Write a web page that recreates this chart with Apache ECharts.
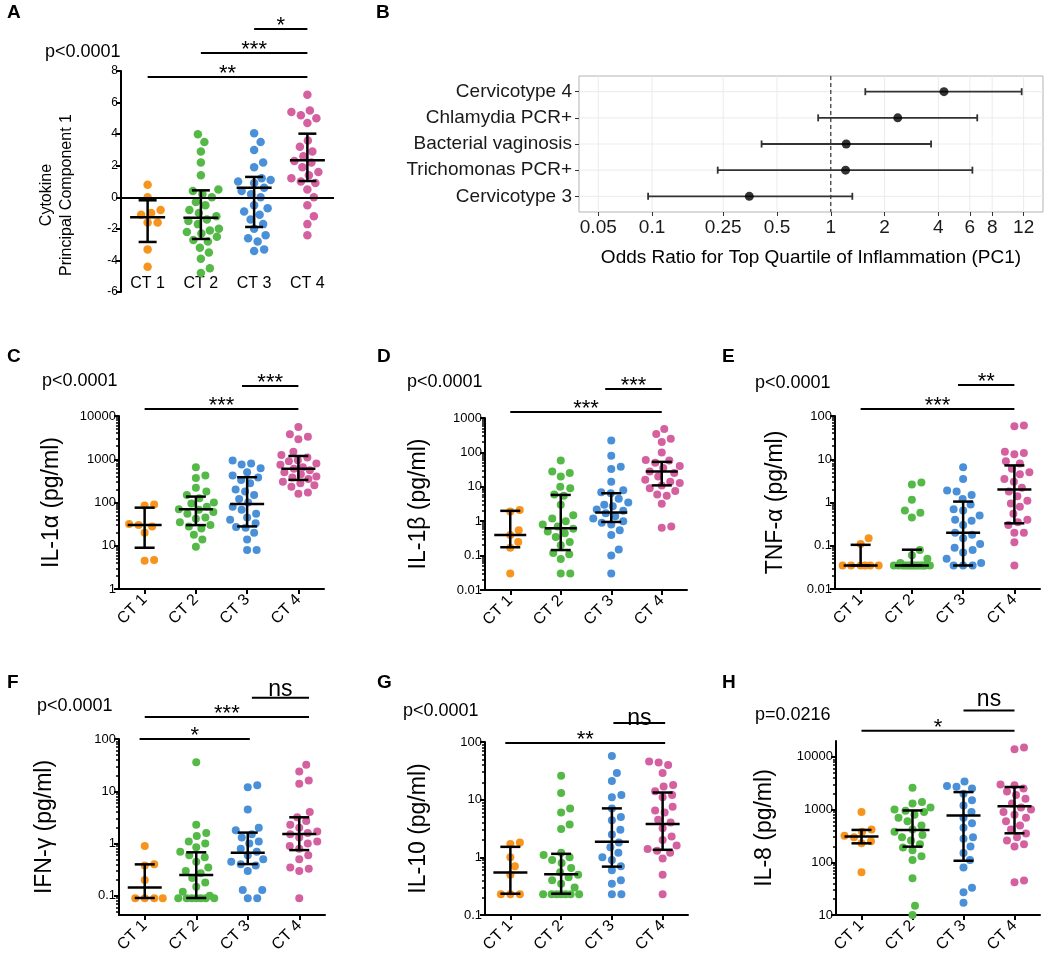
<!DOCTYPE html>
<html>
<head>
<meta charset="utf-8">
<script src="https://cdn.jsdelivr.net/npm/echarts@6.0.0/dist/echarts.min.js"></script>
<style>
html,body{margin:0;padding:0;background:#fff;}
#chart{width:1050px;height:963px;}
</style>
</head>
<body>
<div id="chart"></div>
<script>
// ================= DATA =================
const groups = ['CT 1', 'CT 2', 'CT 3', 'CT 4'];
const groupColors = ['#f7941d', '#55b947', '#4a90d9', '#d4609f'];

// A: Cytokine principal component 1
const pc1Ticks = [-6, -4, -2, 0, 2, 4, 6, 8];
const pc1Values = [
  [0.8, 0.0, -0.8, -1.0, -1.1, -1.6, -1.6, -3.3, -4.4],
  [4.0, 3.5, 2.9, 2.2, 1.4, 0.5, 0.4, 0.2, 0.0, -0.3, -0.5, -0.8, -1.0, -1.2, -1.4, -1.5, -1.7, -2.0, -2.1, -2.2, -2.3, -2.5, -2.7, -2.8, -3.2, -3.5, -3.9, -4.5, -4.8],
  [4.05, 3.5, 3.0, 2.2, 1.9, 1.2, 1.1, 1.0, 0.9, 0.6, 0.4, 0.2, 0.0, -0.5, -0.7, -0.9, -1.1, -1.4, -1.7, -2.0, -2.4, -2.6, -2.8, -3.3, -3.4],
  [6.5, 5.5, 5.4, 5.2, 5.0, 4.7, 3.6, 3.2, 2.9, 2.6, 2.3, 2.2, 1.9, 1.6, 1.4, 1.2, 1.0, 0.9, 0.5, 0.0, -0.5, -1.2, -1.7, -2.4]
];
const pc1Summary = [[-1.27, -2.83, -0.19], [-1.29, -2.64, 0.44], [0.61, -1.88, 1.29], [2.34, 1.03, 4.03]]; // median, q1, q3
const pc1Sig = [[0, 3, 7.62, '**'], [1, 3, 9.14, '***'], [2, 3, 10.66, '*']];

// B: odds ratios
const orCategories = ['Cervicotype 4', 'Chlamydia PCR+', 'Bacterial vaginosis', 'Trichomonas PCR+', 'Cervicotype 3'];
const orEstimate = [4.3, 2.37, 1.22, 1.21, 0.35];
const orLower = [1.56, 0.85, 0.41, 0.233, 0.095];
const orUpper = [11.7, 6.6, 3.64, 6.2, 1.32];
const orTicks = [0.05, 0.1, 0.25, 0.5, 1, 2, 4, 6, 8, 12];

// C: IL-1a
const il1aTicks = [1, 10, 100, 1000, 10000];
const il1aValues = [
  [90, 85, 32, 30, 28, 20, 4.7, 4.5],
  [650, 420, 370, 220, 180, 150, 125, 100, 95, 80, 70, 68, 60, 55, 45, 42, 35, 30, 28, 25, 18, 14, 9.5],
  [930, 800, 760, 620, 500, 420, 380, 330, 280, 200, 180, 150, 120, 100, 80, 68, 55, 45, 40, 33, 27, 26, 20, 14, 8, 8],
  [5600, 3800, 3300, 2900, 1500, 1250, 1100, 950, 900, 800, 750, 650, 600, 560, 500, 450, 400, 380, 350, 300, 280, 250, 230, 170, 160]
];
const il1aSummary = [[30, 9, 76], [70, 30, 137], [92, 28, 384], [605, 333, 1190]];
const il1aSig = [[0, 3, 14500, '***'], [1.9, 3, 49400, '***']];

// D: IL-1b
const il1bTicks = [0.01, 0.1, 1, 10, 100, 1000];
const il1bValues = [
  [2.1, 1.9, 0.55, 0.4, 0.25, 0.17, 0.03],
  [58, 28, 25, 20, 10, 9, 6, 5.5, 3, 1.5, 1.2, 1.0, 0.8, 0.7, 0.6, 0.5, 0.45, 0.35, 0.25, 0.2, 0.12, 0.11, 0.08, 0.03, 0.03],
  [220, 80, 38, 33, 14, 8, 7, 6.5, 4.5, 3.5, 3, 2.7, 2.2, 2, 1.7, 1.4, 1.2, 1.0, 0.9, 0.8, 0.55, 0.4, 0.15, 0.1, 0.03],
  [480, 340, 250, 200, 100, 60, 58, 50, 40, 35, 28, 25, 20, 16, 14, 13, 11, 9, 7.5, 6, 5.5, 3.2, 0.7, 0.65]
];
const il1bSummary = [[0.4, 0.175, 2.0], [0.62, 0.145, 5.8], [1.8, 0.95, 6.5], [28, 11, 53]];
const il1bSig = [[0, 3, 1490, '***'], [1.88, 3, 6970, '***']];

// E: TNF-a
const tnfaTicks = [0.01, 0.1, 1, 10, 100];
const tnfaValues = [
  [0.15, 0.11, 0.035, 0.035, 0.035, 0.035, 0.035, 0.035],
  [2.9, 2.6, 1.15, 0.65, 0.58, 0.45, 0.08, 0.06, 0.05, 0.04, 0.035, 0.035, 0.035, 0.035, 0.035, 0.035, 0.035, 0.035, 0.035, 0.035, 0.035, 0.035, 0.035, 0.035],
  [6.5, 3.5, 1.9, 1.8, 1.5, 1.2, 0.9, 0.7, 0.65, 0.5, 0.4, 0.38, 0.3, 0.2, 0.18, 0.15, 0.11, 0.09, 0.08, 0.07, 0.05, 0.04, 0.035, 0.035, 0.035],
  [60, 58, 15, 14, 13, 9, 8, 6, 5, 4.5, 3.5, 3, 2.2, 1.8, 1.4, 1.1, 0.95, 0.8, 0.55, 0.4, 0.35, 0.3, 0.2, 0.2, 0.12, 0.035]
];
const tnfaSummary = [[0.035, 0.035, 0.105], [0.035, 0.035, 0.081], [0.2, 0.035, 1.05], [2.0, 0.33, 7.2]];
const tnfaSig = [[0, 3, 145, '***'], [1.9, 3, 521, '**']];

// F: IFN-g
const ifngTicks = [0.1, 1, 10, 100];
const ifngValues = [
  [0.9, 0.4, 0.38, 0.2, 0.09, 0.09, 0.09, 0.09],
  [36, 2.3, 1.6, 1.4, 1.1, 1.0, 0.85, 0.7, 0.6, 0.55, 0.45, 0.35, 0.3, 0.27, 0.22, 0.18, 0.15, 0.12, 0.1, 0.09, 0.09, 0.09, 0.09, 0.09, 0.09, 0.09],
  [13, 12, 4.5, 2.0, 1.8, 1.5, 1.3, 1.1, 1.0, 0.8, 0.7, 0.6, 0.5, 0.45, 0.4, 0.38, 0.3, 0.13, 0.13, 0.09, 0.09],
  [32, 24, 16, 14, 4, 3.2, 2.7, 2.3, 2.0, 1.7, 1.6, 1.5, 1.3, 1.1, 1.0, 0.9, 0.8, 0.6, 0.5, 0.35, 0.33, 0.3, 0.09]
];
const ifngSummary = [[0.144, 0.091, 0.4], [0.25, 0.091, 0.68], [0.67, 0.405, 1.62], [1.52, 0.75, 3.18]];
const ifngSig = [[-0.1, 2.04, 100, '*'], [0, 3.19, 264, '***'], [2.08, 3.19, 612, 'ns']];

// G: IL-10
const il10Ticks = [0.1, 1, 10, 100];
const il10Values = [
  [1.8, 1.7, 1.0, 0.7, 0.5, 0.23, 0.23, 0.23],
  [26, 13, 7, 6, 3.7, 3.1, 1.2, 1.1, 1.0, 0.9, 0.8, 0.65, 0.55, 0.5, 0.45, 0.4, 0.35, 0.3, 0.23, 0.23, 0.23, 0.23, 0.23, 0.23, 0.23],
  [57, 29, 21, 12, 11, 7, 5, 4.4, 3, 2.5, 1.8, 1.5, 1.2, 1.0, 0.9, 0.7, 0.6, 0.4, 0.35, 0.23, 0.23],
  [46, 44, 40, 29, 18, 17, 14, 12, 11, 7.5, 6.5, 6, 4.5, 4, 3.2, 2.3, 2.0, 1.6, 1.4, 1.3, 1.2, 0.95, 0.5, 0.23]
];
const il10Summary = [[0.546, 0.234, 1.52], [0.51, 0.234, 1.15], [1.87, 0.69, 7.06], [3.79, 1.35, 13.3]];
const il10Sig = [[-0.1, 3.05, 96, '**'], [2.03, 3.05, 213, 'ns']];

// H: IL-8
const il8Ticks = [10, 100, 1000, 10000];
const il8Values = [
  [900, 420, 380, 320, 300, 250, 230, 65],
  [2600, 1400, 1300, 1100, 1000, 950, 900, 800, 700, 600, 500, 420, 380, 330, 300, 260, 220, 190, 170, 130, 110, 50, 15, 10],
  [3400, 2800, 2700, 2500, 2000, 1500, 1200, 900, 700, 550, 450, 300, 280, 200, 150, 110, 80, 33, 27, 17],
  [15000, 14000, 3000, 2900, 2500, 2200, 1900, 1600, 1300, 1100, 1000, 900, 800, 700, 600, 500, 420, 350, 300, 260, 220, 200, 45, 42]
];
const il8Summary = [[307, 229, 411], [411, 198, 962], [771, 107, 2148], [1162, 355, 2680]];
const il8Sig = [[0, 3, 31400, '*'], [2, 3, 75900, 'ns']];

// ================= LAYOUT / STYLE =================
const FONT = '"Liberation Sans", Arial, Helvetica, sans-serif';

const panels = [
  {values: pc1Values, summary: pc1Summary, sig: pc1Sig, ticks: pc1Ticks, log: false, min: -6, max: 8,
   grid: {left: 121, top: 71, width: 213, height: 221}, dot: 8.5, gap: 10, medHalf: 17.5, capHalf: 9, rotate: 0, tickFont: 12, nsDy: -9},
  {values: il1aValues, summary: il1aSummary, sig: il1aSig, ticks: il1aTicks, log: true, min: 1, max: 10000,
   grid: {left: 119, top: 416, width: 205, height: 173}, dot: 8, gap: 9.5, medHalf: 17, capHalf: 10, rotate: 45, name: 'IL-1α (pg/ml)', nameGap: 56, nsDy: -9},
  {values: il1bValues, summary: il1bSummary, sig: il1bSig, ticks: il1bTicks, log: true, min: 0.01, max: 1000,
   grid: {left: 485, top: 418, width: 202, height: 172}, dot: 8, gap: 9.5, medHalf: 16, capHalf: 10, rotate: 45, name: 'IL-1β (pg/ml)', nameGap: 55, nsDy: -9},
  {values: tnfaValues, summary: tnfaSummary, sig: tnfaSig, ticks: tnfaTicks, log: true, min: 0.01, max: 100,
   grid: {left: 835, top: 416, width: 205, height: 173}, dot: 8, gap: 9.5, medHalf: 17, capHalf: 10, rotate: 45, name: 'TNF-α (pg/ml)', nameGap: 48, nsDy: -9},
  {values: ifngValues, summary: ifngSummary, sig: ifngSig, ticks: ifngTicks, log: true, min: 0.043, max: 100,
   grid: {left: 119, top: 739, width: 206, height: 176}, dot: 8, gap: 9.5, medHalf: 17, capHalf: 10, rotate: 45, name: 'IFN-γ (pg/ml)', nameGap: 63, nsDy: -8},
  {values: il10Values, summary: il10Summary, sig: il10Sig, ticks: il10Ticks, log: true, min: 0.1, max: 100,
   grid: {left: 485, top: 742, width: 203, height: 173}, dot: 8, gap: 9.5, medHalf: 17, capHalf: 10, rotate: 45, name: 'IL-10 (pg/ml)', nameGap: 55, nsDy: -4},
  {values: il8Values, summary: il8Summary, sig: il8Sig, ticks: il8Ticks, log: true, min: 10, max: 20000,
   grid: {left: 836, top: 741, width: 204, height: 174}, dot: 8, gap: 9.5, medHalf: 17, capHalf: 10, rotate: 45, name: 'IL-8 (pg/ml)', nameGap: 60, nsDy: -11}
];

const texts = [
  {t: 'A', x: 7, y: 13, bold: true}, {t: 'B', x: 376, y: 13, bold: true},
  {t: 'C', x: 7, y: 357, bold: true}, {t: 'D', x: 377, y: 357, bold: true}, {t: 'E', x: 722, y: 357, bold: true},
  {t: 'F', x: 7, y: 683, bold: true}, {t: 'G', x: 377, y: 683, bold: true}, {t: 'H', x: 722, y: 683, bold: true},
  {t: 'p<0.0001', x: 45, y: 52}, {t: 'p<0.0001', x: 42, y: 381}, {t: 'p<0.0001', x: 407, y: 382},
  {t: 'p<0.0001', x: 755, y: 383}, {t: 'p<0.0001', x: 37, y: 706}, {t: 'p<0.0001', x: 403, y: 711},
  {t: 'p=0.0216', x: 755, y: 715}
];

// ================= HELPERS =================
function swarmOffsets(ys, d, maxHalf) {
  const order = ys.map((y, i) => i).sort((a, b) => ys[a] - ys[b]);
  const placed = [];
  const off = new Array(ys.length).fill(0);
  const cands = [0];
  for (let s = 0.5; s <= maxHalf; s += 0.5) cands.push(s, -s);
  for (const i of order) {
    const y = ys[i];
    let chosen = null, bestScore = -1, bestX = 0;
    for (const x of cands) {
      let minD = Infinity;
      for (const p of placed) {
        const dy = p.y - y;
        if (Math.abs(dy) >= d) continue;
        const dist = Math.hypot(p.x - x, dy);
        if (dist < minD) minD = dist;
      }
      if (minD >= d) { chosen = x; break; }
      if (minD > bestScore) { bestScore = minD; bestX = x; }
    }
    if (chosen === null) chosen = bestX;
    off[i] = chosen;
    placed.push({x: chosen, y: y});
  }
  return off;
}
function minorExps(lo, hi) {
  const out = [];
  for (let k = Math.floor(lo); k <= Math.ceil(hi); k++) {
    for (let m = 2; m <= 9; m++) {
      const e = k + Math.log10(m);
      if (e > lo + 1e-9 && e < hi - 1e-9) out.push(e);
    }
  }
  return out;
}
function fmtLog(v) {
  const r = Math.pow(10, v);
  return r >= 1 ? String(Math.round(r)) : String(+r.toPrecision(2));
}

// ================= BUILD =================
const grid = [], xAxis = [], yAxis = [], series = [], graphic = [];

panels.forEach((P) => {
  const gi = grid.length;
  grid.push({left: P.grid.left, top: P.grid.top, width: P.grid.width, height: P.grid.height});
  const tf = P.log ? (v => Math.log10(v)) : (v => v);
  const yMin = tf(P.min), yMax = tf(P.max);
  const isA = !P.log;

  const xi = xAxis.length;
  xAxis.push({
    gridIndex: gi, type: 'value', min: -0.5, max: 3.5,
    axisLine: {show: !isA, onZero: false, lineStyle: {color: '#000', width: 2}},
    axisTick: {show: !isA, customValues: [0, 1, 2, 3], length: 5, lineStyle: {color: '#000', width: 2}},
    axisLabel: {customValues: [0, 1, 2, 3], formatter: v => groups[Math.round(v)], rotate: P.rotate,
      inside: isA, margin: isA ? 0 : 8, fontSize: 16, color: '#000', fontFamily: FONT},
    splitLine: {show: false}
  });
  const yi = yAxis.length;
  yAxis.push({
    gridIndex: gi, type: 'value', min: yMin, max: yMax, position: 'left',
    axisLine: {show: true, onZero: false, lineStyle: {color: '#000', width: 2}},
    axisTick: {show: true, customValues: P.ticks.map(tf), length: 5, lineStyle: {color: '#000', width: 2}},
    axisLabel: {customValues: P.ticks.map(tf), formatter: P.log ? fmtLog : (v => String(v)),
      fontSize: P.tickFont || 13, color: '#000', margin: 3, fontFamily: FONT},
    splitLine: {show: false},
    name: P.name || '', nameLocation: 'middle', nameGap: P.nameGap || 40,
    nameTextStyle: {fontSize: 23, color: '#000', fontFamily: FONT}
  });
  if (P.log) {
    yAxis.push({
      gridIndex: gi, type: 'value', min: yMin, max: yMax, position: 'left',
      axisLine: {show: false, onZero: false},
      axisTick: {show: true, customValues: minorExps(yMin, yMax), length: 3, lineStyle: {color: '#000', width: 1.5}},
      axisLabel: {show: false}, splitLine: {show: false}
    });
  }

  const pxPerUnit = P.grid.height / (yMax - yMin);
  const band = P.grid.width / 4;
  P.values.forEach((vals, g) => {
    const t = vals.map(tf);
    const offs = swarmOffsets(t.map(y => y * pxPerUnit), P.gap, 18);
    series.push({
      type: 'scatter', xAxisIndex: xi, yAxisIndex: yi, silent: true, z: 2,
      symbolSize: P.dot, itemStyle: {color: groupColors[g], opacity: 1},
      data: t.map((y, k) => [g + offs[k] / band, y])
    });
  });

  // median + IQR bars
  const sumSeries = {
    type: 'custom', xAxisIndex: xi, yAxisIndex: yi, silent: true, z: 4,
    data: P.summary.map((s, g) => [g, tf(s[0]), tf(s[1]), tf(s[2])]),
    encode: {x: 0, y: [1, 2, 3]},
    renderItem: (params, api) => {
      const c = api.value(0);
      const pm = api.coord([c, api.value(1)]);
      const pl = api.coord([c, api.value(2)]);
      const ph = api.coord([c, api.value(3)]);
      const st = {stroke: '#000', lineWidth: 2.5, lineCap: 'butt'};
      return {type: 'group', children: [
        {type: 'line', shape: {x1: pl[0], y1: pl[1], x2: ph[0], y2: ph[1]}, style: st},
        {type: 'line', shape: {x1: pl[0] - P.capHalf, y1: pl[1], x2: pl[0] + P.capHalf, y2: pl[1]}, style: st},
        {type: 'line', shape: {x1: ph[0] - P.capHalf, y1: ph[1], x2: ph[0] + P.capHalf, y2: ph[1]}, style: st},
        {type: 'line', shape: {x1: pm[0] - P.medHalf, y1: pm[1], x2: pm[0] + P.medHalf, y2: pm[1]}, style: st}
      ]};
    }
  };
  if (isA) {
    sumSeries.markLine = {silent: true, symbol: 'none', animation: false, label: {show: false},
      lineStyle: {color: '#000', width: 2, type: 'solid'}, data: [{yAxis: 0}]};
  }
  series.push(sumSeries);

  // significance bars
  const sig = P.sig;
  series.push({
    type: 'custom', xAxisIndex: xi, yAxisIndex: yi, silent: true, z: 5, clip: false,
    data: sig.map(s => [s[0], s[1], tf(s[2])]),
    encode: {x: [0, 1], y: 2},
    renderItem: (params, api) => {
      const p1 = api.coord([api.value(0), api.value(2)]);
      const p2 = api.coord([api.value(1), api.value(2)]);
      const lab = sig[params.dataIndex][3];
      const isNs = lab === 'ns';
      return {type: 'group', children: [
        {type: 'line', shape: {x1: p1[0], y1: p1[1], x2: p2[0], y2: p2[1]}, style: {stroke: '#000', lineWidth: 2}},
        {type: 'text', x: (p1[0] + p2[0]) / 2, y: p1[1] + (isNs ? P.nsDy : -3),
         style: {text: lab, fontSize: isNs ? 23 : 22, fontFamily: FONT, fill: '#000', align: 'center', verticalAlign: 'middle'}}
      ]};
    }
  });
});

// ---- Panel B ----
(function () {
  const gi = grid.length;
  grid.push({left: 579, top: 76, width: 464, height: 136, show: true, borderColor: '#b3b3b3', borderWidth: 1, backgroundColor: '#fff'});
  const xi = xAxis.length;
  const tickExp = orTicks.map(t => Math.log10(t));
  const xMin = Math.log10(0.039), xMax = Math.log10(15.4);
  xAxis.push({
    gridIndex: gi, type: 'value', min: xMin, max: xMax,
    axisLine: {show: false, onZero: false},
    axisTick: {show: true, customValues: tickExp, length: 4, lineStyle: {color: '#333', width: 1}},
    axisLabel: {customValues: tickExp, margin: 6, fontSize: 19, color: '#1a1a1a', fontFamily: FONT,
      formatter: v => { let best = orTicks[0]; orTicks.forEach(t => { if (Math.abs(Math.log10(t) - v) < Math.abs(Math.log10(best) - v)) best = t; }); return String(best); }},
    splitLine: {show: false},
    name: 'Odds Ratio for Top Quartile of Inflammation (PC1)', nameLocation: 'middle', nameGap: 36,
    nameTextStyle: {fontSize: 19, color: '#000', fontFamily: FONT}
  });
  const yi = yAxis.length;
  yAxis.push({
    gridIndex: gi, type: 'value', min: 0.4, max: 5.6, inverse: true,
    axisLine: {show: false, onZero: false},
    axisTick: {show: true, customValues: [1, 2, 3, 4, 5], length: 4, lineStyle: {color: '#333', width: 1}},
    axisLabel: {customValues: [1, 2, 3, 4, 5], formatter: v => orCategories[Math.round(v) - 1] || '',
      margin: 7, fontSize: 19, color: '#1a1a1a', fontFamily: FONT},
    splitLine: {show: false}
  });
  // panel grid lines (drawn through the axes' scales)
  const gridLines = tickExp.map(e => [e, 0]).concat([1, 2, 3, 4, 5].map(v => [v, 1]));
  series.push({
    type: 'custom', xAxisIndex: xi, yAxisIndex: yi, silent: true, z: 1,
    data: gridLines, encode: {x: 0},
    renderItem: (params, api) => {
      const v = api.value(0), horiz = api.value(1) === 1;
      const a = horiz ? api.coord([xMin, v]) : api.coord([v, 0.4]);
      const b = horiz ? api.coord([xMax, v]) : api.coord([v, 5.6]);
      return {type: 'line', shape: {x1: a[0], y1: a[1], x2: b[0], y2: b[1]}, style: {stroke: '#ebebeb', lineWidth: 1}};
    }
  });
  // reference line at OR = 1
  series.push({
    type: 'custom', xAxisIndex: xi, yAxisIndex: yi, silent: true, z: 2,
    data: [[0]], encode: {x: 0},
    renderItem: (params, api) => {
      const a = api.coord([api.value(0), 0.4]);
      const b = api.coord([api.value(0), 5.6]);
      return {type: 'line', shape: {x1: a[0], y1: a[1], x2: b[0], y2: b[1]}, style: {stroke: '#333', lineWidth: 1.2, lineDash: [4, 3]}};
    }
  });
  series.push({
    type: 'custom', xAxisIndex: xi, yAxisIndex: yi, silent: true, z: 3,
    data: orCategories.map((c, i) => [Math.log10(orLower[i]), Math.log10(orUpper[i]), i + 1]),
    encode: {x: [0, 1], y: 2},
    renderItem: (params, api) => {
      const a = api.coord([api.value(0), api.value(2)]);
      const b = api.coord([api.value(1), api.value(2)]);
      const st = {stroke: '#333', lineWidth: 1.8};
      return {type: 'group', children: [
        {type: 'line', shape: {x1: a[0], y1: a[1], x2: b[0], y2: b[1]}, style: st},
        {type: 'line', shape: {x1: a[0], y1: a[1] - 3.5, x2: a[0], y2: a[1] + 3.5}, style: st},
        {type: 'line', shape: {x1: b[0], y1: b[1] - 3.5, x2: b[0], y2: b[1] + 3.5}, style: st}
      ]};
    }
  });
  series.push({
    type: 'scatter', xAxisIndex: xi, yAxisIndex: yi, silent: true, z: 4, symbolSize: 9,
    itemStyle: {color: '#000'},
    data: orEstimate.map((v, i) => [Math.log10(v), i + 1])
  });
})();

// ---- texts ----
texts.forEach(T => {
  graphic.push({type: 'text', x: T.x, y: T.y, silent: true,
    style: {text: T.t, fontSize: T.bold ? 19 : 18, fontWeight: T.bold ? 'bold' : 'normal', fontFamily: FONT,
      fill: '#000', align: 'left', verticalAlign: 'middle'}});
});
graphic.push({type: 'text', x: 57, y: 195, rotation: Math.PI / 2, silent: true,
  style: {text: 'Cytokine\nPrincipal Component 1', fontSize: 16, lineHeight: 20, fontFamily: FONT,
    fill: '#000', align: 'center', verticalAlign: 'middle'}});

const chart = echarts.init(document.getElementById('chart'));
chart.setOption({
  animation: false,
  backgroundColor: '#fff',
  textStyle: {fontFamily: FONT},
  grid: grid, xAxis: xAxis, yAxis: yAxis, series: series, graphic: graphic
});
</script>
</body>
</html>
